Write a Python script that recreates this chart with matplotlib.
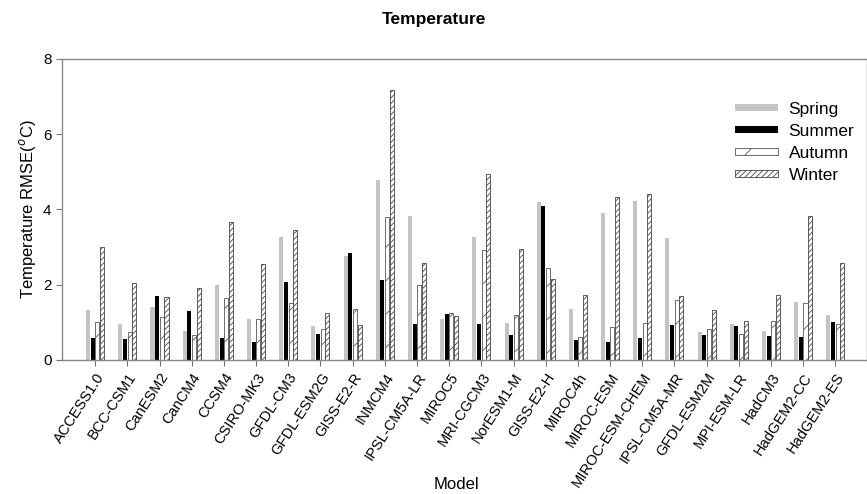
import numpy as np
import matplotlib.pyplot as plt
import matplotlib as mpl

plt.rcParams['font.family'] = ['Liberation Sans', 'DejaVu Sans']
mpl.rcParams['hatch.linewidth'] = 0.6

models = ['ACCESS1.0', 'BCC-CSM1', 'CanESM2', 'CanCM4', 'CCSM4', 'CSIRO-MK3',
          'GFDL-CM3', 'GFDL-ESM2G', 'GISS-E2-R', 'INMCM4', 'IPSL-CM5A-LR',
          'MIROC5', 'MRI-CGCM3', 'NorESM1-M', 'GISS-E2-H', 'MIROC4h',
          'MIROC-ESM', 'MIROC-ESM-CHEM', 'IPSL-CM5A-MR', 'GFDL-ESM2M',
          'MPI-ESM-LR', 'HadCM3', 'HadGEM2-CC', 'HadGEM2-ES']
spring = [1.33, 0.96, 1.42, 0.78, 1.98, 1.08, 3.28, 0.90, 2.77, 4.79, 3.84, 1.09,
          3.28, 0.99, 4.21, 1.35, 3.90, 4.23, 3.23, 0.74, 0.96, 0.77, 1.53, 1.19]
summer = [0.59, 0.55, 1.71, 1.29, 0.59, 0.47, 2.06, 0.69, 2.84, 2.13, 0.96, 1.23,
          0.96, 0.66, 4.08, 0.53, 0.47, 0.58, 0.94, 0.67, 0.90, 0.64, 0.61, 1.02]
autumn = [1.02, 0.75, 1.15, 0.66, 1.66, 1.10, 1.51, 0.83, 1.35, 3.79, 2.00, 1.25,
          2.91, 1.19, 2.44, 0.62, 0.87, 0.99, 1.60, 0.83, 0.69, 1.04, 1.51, 0.96]
winter = [3.01, 2.04, 1.68, 1.91, 3.68, 2.54, 3.45, 1.25, 0.93, 7.18, 2.57, 1.18,
          4.95, 2.94, 2.16, 1.73, 4.33, 4.41, 1.70, 1.33, 1.04, 1.73, 3.83, 2.57]

x = np.arange(len(models))
w = 0.125
step = 0.145

fig = plt.figure(figsize=(8.67, 4.94), dpi=100)
ax = fig.add_axes([0.0715, 0.2713, 0.928, 0.6093])

ax.bar(x - 1.5 * step, spring, w, color='#c4c4c4', edgecolor='none', label='Spring')
ax.bar(x - 0.5 * step, summer, w, color='black', edgecolor='none', label='Summer')
ax.bar(x + 0.5 * step, autumn, w, color='white', edgecolor='#555555', linewidth=0.6,
       hatch='/', label='Autumn')
ax.bar(x + 1.5 * step, winter, w, color='white', edgecolor='#444444', linewidth=0.6,
       hatch='//////', label='Winter')

ax.set_xlim(-1.03, 23.97)
ax.set_ylim(0, 8)
ax.set_yticks([0, 2, 4, 6, 8])
ax.set_xticks(x)
ax.set_xticklabels(models, rotation=57, ha='right', rotation_mode='anchor', fontsize=10.5)
ax.tick_params(axis='y', labelsize=11, length=4, color='#777777')
ax.tick_params(axis='x', length=4, color='#777777')
for s in ax.spines.values():
    s.set_color('#888888')
    s.set_linewidth(1.0)

ax.set_xlabel('Model', fontsize=12)
ax.xaxis.set_label_coords(0.49, -0.39)
ax.set_ylabel('Temperature RMSE($^o$C)', fontsize=12)
fig.suptitle('Temperature', fontsize=12.5, fontweight='bold', y=0.975)

ax.legend(loc='upper right', bbox_to_anchor=(1.0, 0.897), frameon=False, fontsize=12.5,
          handlelength=2.5, handleheight=0.25, handletextpad=0.6, labelspacing=0.4,
          borderaxespad=0.3)

fig.savefig('out.png', dpi=100)
